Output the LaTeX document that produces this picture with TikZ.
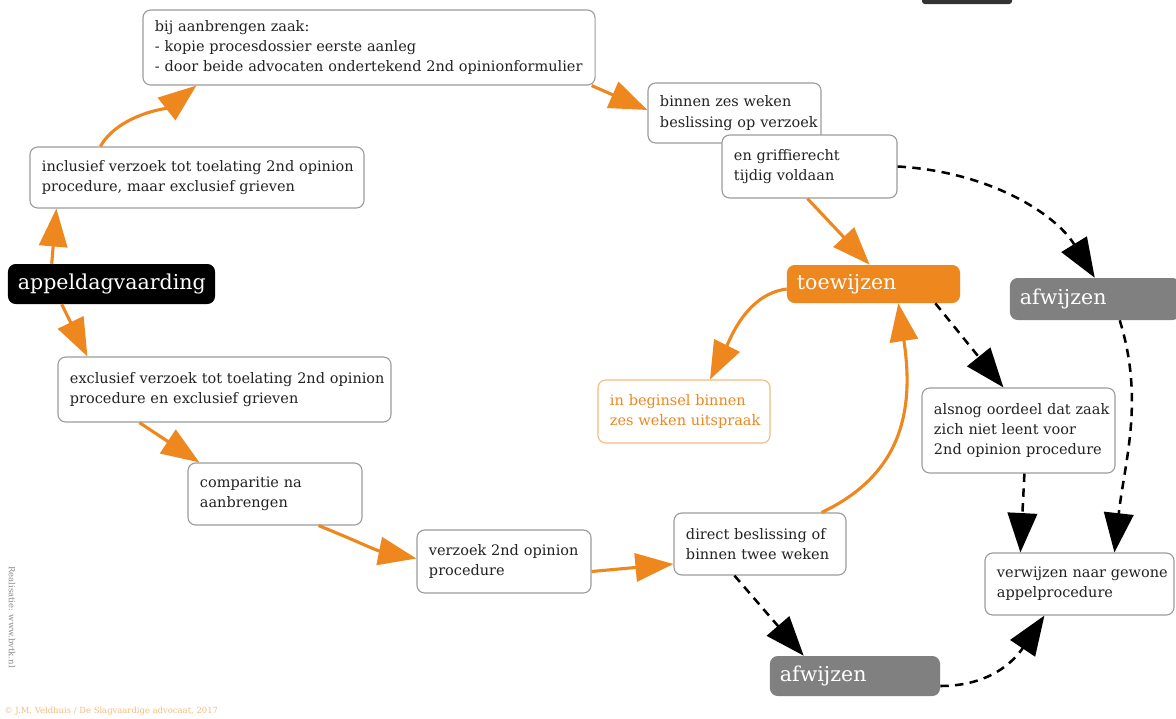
\documentclass[tikz,border=0pt]{standalone}
\usepackage{fontspec}
\setmainfont{DejaVu Serif}
\usetikzlibrary{arrows.meta}
\definecolor{orng}{HTML}{EE871E}
\definecolor{lorng}{HTML}{F4BC82}
\definecolor{bxgray}{HTML}{9C9C9C}
\definecolor{dgray}{HTML}{808080}
\definecolor{txt}{HTML}{222222}
\hfuzz=200pt
\tikzset{
  box/.style={draw=bxgray, line width=0.8pt, rounded corners=5.5pt, fill=white, align=left,
    inner xsep=0.3cm, inner ysep=0pt, font=\fontsize{10.3}{14.4}\selectfont, text=txt},
  big/.style={rounded corners=5.5pt, align=left, inner xsep=0.25cm, inner ysep=0pt,
    font=\fontsize{14.6}{16}\selectfont, text=white, minimum height=1cm},
  oarr/.style={draw=orng, line width=2.2pt, -{Triangle[length=27pt,width=20pt]}},
  darr/.style={draw=black, line width=1.8pt, dash pattern=on 6pt off 4.5pt, -{Triangle[length=28pt,width=21pt]}},
  small/.style={font=\fontsize{6}{7}\selectfont, inner sep=0pt}
}
\begin{document}
\begin{tikzpicture}[x=0.025cm,y=-0.025cm]
\useasboundingbox (0,0) rectangle (1176,718);
\fill[white] (0,0) rectangle (1176,718);

\fill[black!80, rounded corners=2pt] (922,-8) rectangle (1012,4);

\node[box, text width=10.7cm, minimum height=1.875cm] (top) at (369,47.5) {\mbox{bij aanbrengen zaak:}\\\mbox{- kopie procesdossier eerste aanleg}\\\mbox{- door beide advocaten ondertekend 2nd opinionformulier}};
\node[box, text width=7.75cm, minimum height=1.525cm] (incl) at (197,177.5) {\mbox{inclusief verzoek tot toelating 2nd opinion}\\\mbox{procedure, maar exclusief grieven}};
\node[big, fill=black, text width=4.675cm] (appel) at (111.5,284) {\mbox{appeldagvaarding}};
\node[box, text width=7.725cm, minimum height=1.625cm] (excl) at (224.5,389.5) {\mbox{exclusief verzoek tot toelating 2nd opinion}\\\mbox{procedure en exclusief grieven}};
\node[box, text width=3.75cm, minimum height=1.55cm] (comp) at (275,494) {\mbox{comparitie na}\\\mbox{aanbrengen}};
\node[box, text width=3.75cm, minimum height=1.575cm] (verz) at (504,561.5) {\mbox{verzoek 2nd opinion}\\\mbox{procedure}};
\node[box, text width=3.7cm, minimum height=1.55cm] (direct) at (760,544) {\mbox{direct beslissing of}\\\mbox{binnen twee weken}};
\node[big, fill=dgray, text width=3.75cm] (afw2) at (855,676) {afwijzen};
\node[box, text width=4.125cm, minimum height=1.55cm] (verw) at (1079.5,584) {\mbox{verwijzen naar gewone}\\\mbox{appelprocedure}};
\node[box, text width=4.225cm, minimum height=2.125cm] (alsnog) at (1018.5,430.5) {\mbox{alsnog oordeel dat zaak}\\\mbox{zich niet leent voor}\\\mbox{2nd opinion procedure}};
\node[box, draw=lorng, text=orng, text width=3.7cm, minimum height=1.575cm] (inbeg) at (684,411.5) {\mbox{in beginsel binnen}\\\mbox{zes weken uitspraak}};
\node[big, fill=orng, text width=3.825cm, minimum height=0.95cm] (toew) at (873.5,284) {toewijzen};
\node[big, fill=dgray, text width=3.75cm, minimum height=1.05cm] (afw1) at (1095,299) {afwijzen};
\node[box, text width=3.725cm, minimum height=1.5cm] (binnen) at (734.5,113) {\mbox{binnen zes weken}\\\mbox{beslissing op verzoek}};
\node[box, text width=3.775cm, minimum height=1.575cm] (griff) at (809.5,166.5) {\mbox{en griffierecht}\\\mbox{tijdig voldaan}};

% orange flow
\draw[oarr] ([shift={(44,0)}]appel.north west) -- ([shift={(27,0)}]incl.south west);
\draw[oarr] ([shift={(71,0)}]incl.north west) .. controls +(18,-32) and +(-28,22) .. ([shift={(54,0)}]top.south west);
\draw[oarr] ([shift={(-4,0)}]top.south east) -- ([shift={(0,-3)}]binnen.west);
\draw[oarr] ([shift={(86,0)}]griff.south west) -- ([shift={(83,0)}]toew.north west);
\draw[oarr] ([shift={(0,5)}]toew.west) .. controls +(-40,5) and +(20,-40) .. ([shift={(26,0)}]inbeg.north);
\draw[oarr] ([shift={(-25,0)}]direct.north east) .. controls +(85,-40) and +(15,100) .. ([shift={(-62,0)}]toew.south east);
\draw[oarr] ([shift={(54,0)}]appel.south west) -- ([shift={(30,0)}]excl.north west);
\draw[oarr] ([shift={(82,0)}]excl.south west) -- ([shift={(12,0)}]comp.north west);
\draw[oarr] ([shift={(-44,0)}]comp.south east) .. controls +(30,12) and +(-40,-8) .. ([shift={(0,-3)}]verz.west);
\draw[oarr] ([shift={(0,10)}]verz.east) -- ([shift={(0,20)}]direct.west);

% dashed black flow
\draw[darr] (griff.east) .. controls +(90,5) and +(-40,-65) .. ([shift={(85,0)}]afw1.north west);
\draw[darr] ([shift={(-25,0)}]toew.south east) -- ([shift={(82,0)}]alsnog.north west);
\draw[darr] ([shift={(103,0)}]alsnog.south west) -- ([shift={(36,0)}]verw.north west);
\draw[darr] ([shift={(110,0)}]afw1.south west) .. controls +(25,80) and +(10,-90) .. ([shift={(130,0)}]verw.north west);
\draw[darr] ([shift={(61,0)}]direct.south west) -- ([shift={(34,0)}]afw2.north west);
\draw[darr] ([shift={(0,10)}]afw2.east) .. controls +(50,0) and +(-30,45) .. ([shift={(60,0)}]verw.south west);

% credits
\node[small, text=lorng, anchor=west] (foot) at (4,711) {© J.M. Veldhuis / De Slagvaardige advocaat, 2017};
\node[small, text=black!45, rotate=-90, anchor=west] (vert) at (12,566) {Realisatie: www.bvtk.nl};
\end{tikzpicture}
\end{document}
